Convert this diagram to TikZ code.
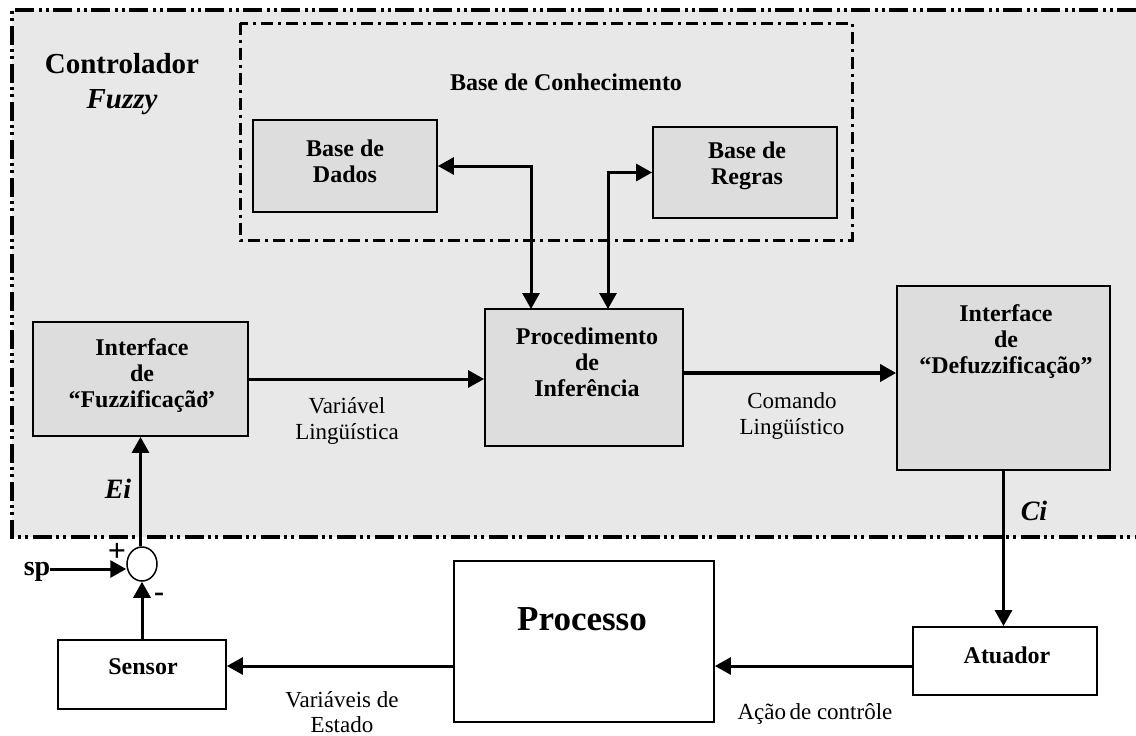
\documentclass[tikz,border=0pt]{standalone}
\usepackage{fontspec}
\setmainfont{Liberation Serif}
\usetikzlibrary{arrows.meta,shapes.geometric,calc}
\definecolor{panel}{HTML}{E8E8E8}
\definecolor{blockfill}{HTML}{DDDDDD}

\begin{document}
\begin{tikzpicture}[x=1pt,y=-1pt,
  block/.style={draw, line width=1.8pt, fill=blockfill, inner sep=0pt},
  plainblock/.style={draw, line width=1.8pt, fill=white, inner sep=0pt},
  lbl/.style={font=\bfseries\fontsize{24}{26}\selectfont, align=center, inner sep=0pt},
  sig/.style={font=\fontsize{23}{25.5}\selectfont, align=center, inner sep=0pt},
  bigital/.style={font=\bfseries\itshape\fontsize{29}{32}\selectfont, inner sep=0pt},
  flow/.style={line width=3pt, -{Triangle[length=16pt,width=17pt]}},
  twoway/.style={line width=3pt, {Triangle[length=16pt,width=17pt]}-{Triangle[length=16pt,width=17pt]}},
  outerframe/.style={line width=3.2pt, dash pattern=on 19pt off 4pt on 3pt off 4pt on 3pt off 5pt},
  innerframe/.style={line width=3pt, dash pattern=on 12pt off 5pt on 3pt off 5pt},
]
\useasboundingbox (0,0) rectangle (1136,736);
\fill[white] (0,0) rectangle (1136,736);

% controller panel (open on the right)
\fill[panel] (12,10) rectangle (1136,537);
\draw[outerframe] (1136,10) -- (12,10) -- (12,537) -- (1136,537);

% knowledge base frame
\draw[innerframe] (240,23) rectangle (852,240);
\node[lbl] (kbtitle) at (566,82) {Base de Conhecimento};

\node[font=\bfseries\fontsize{29}{32}\selectfont, inner sep=0pt] (ctrl) at (122,64) {Controlador};
\node[bigital] (fuzzy) at (122,102) {Fuzzy};

% blocks
\node[block, minimum width=184pt, minimum height=92pt] (dados) at (345,166) {};
\node[lbl] (dadostxt) at (345,161) {Base de\\Dados};

\node[block, minimum width=184pt, minimum height=91pt] (regras) at (745,172.5) {};
\node[lbl] (regrastxt) at (747,166) {Base de\\Regras};

\node[block, minimum width=198pt, minimum height=137pt] (proc) at (584,377.5) {};
\node[lbl] (proctxt) at (587,362) {Procedimento\\de\\Inferência};

\node[block, minimum width=215pt, minimum height=114pt] (fuzz) at (140.5,379) {};
\node[lbl] (fuzztxt) at (142,376) {Interface\\de\\“Fuzzificação\kern-0.3em’’};

\node[block, minimum width=213pt, minimum height=184pt] (defuzz) at (1003.5,378) {};
\node[lbl] (defuzztxt) at (1006,342) {Interface\\de\\“Defuzzificação”};

\node[plainblock, minimum width=260pt, minimum height=161pt] (processo) at (584,641.5) {};
\node[font=\bfseries\fontsize{35}{40}\selectfont, inner sep=0pt] (processotxt) at (582,619) {Processo};

\node[plainblock, minimum width=184pt, minimum height=68pt] (atuador) at (1005,661) {};
\node[lbl] (atuadortxt) at (1007,655) {Atuador};

\node[plainblock, minimum width=168pt, minimum height=69pt] (sensor) at (142,674.5) {};
\node[lbl] (sensortxt) at (143,667) {Sensor};

% summing junction
\node[ellipse, draw, line width=1.5pt, fill=white, minimum width=30pt, minimum height=34pt, inner sep=0pt] (sum) at (142,564) {};
\node[font=\bfseries\fontsize{28}{30}\selectfont, inner sep=0pt] (sp) at (37,572) {sp};
\node[font=\bfseries\fontsize{32}{34}\selectfont, inner sep=0pt] (plus) at (117,552) {+};
\node[font=\bfseries\fontsize{30}{32}\selectfont, inner sep=0pt] (minus) at (159,597) {-};

% connection points
\coordinate (dadosdrop) at (531,309);
\coordinate (regrasdrop) at (608,309);
\coordinate (procout) at (683,373);
\coordinate (busy) at (0,666);
\coordinate (spend) at (50,569);

% knowledge base links
\draw[twoway] (dados.east) -| (dadosdrop);
\draw[twoway] (regras.west) -| (regrasdrop);

% main signal path
\draw[flow] (fuzz.east) -- (proc.west |- fuzz.east);
\draw[flow, line width=3.8pt] (procout) -- (defuzz.west |- procout);
\draw[flow] (defuzz.south) -- (defuzz.south |- atuador.north);
\draw[flow] (atuador.west |- busy) -- (processo.east |- busy);
\draw[flow] (processo.west |- busy) -- (sensor.east |- busy);
\draw[flow] (sensor.north) -- (sum.south);
\draw[flow] (spend) -- (sum.west |- spend);
\draw[flow] (sum.north -| fuzz.south) -- (fuzz.south);

% signal labels
\node[sig] (varling) at (347,421) {Variável\\Lingüística};
\node[sig] (comling) at (792,416) {Comando\\Lingüístico};
\node[sig] (varest) at (342,712) {Variáveis de\\Estado};
\node[sig] (acao) at (815,714) {Ação\kern-0.1em{} de contrôle};
\node[bigital, font=\bfseries\itshape\fontsize{28}{30}\selectfont] (ei) at (118,489) {Ei};
\node[bigital, font=\bfseries\itshape\fontsize{28}{30}\selectfont] (ci) at (1034,511) {Ci};
\end{tikzpicture}
\end{document}
